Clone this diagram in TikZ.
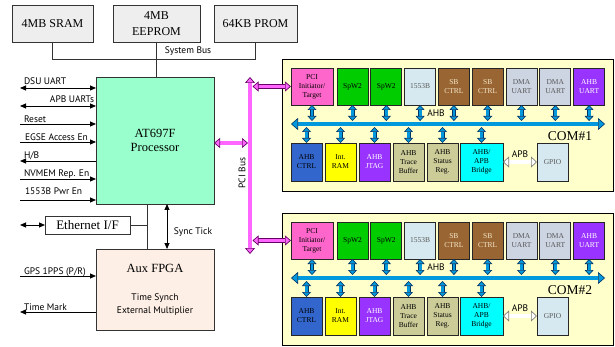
\documentclass[tikz,border=0pt]{standalone}
\usepackage{fontspec}
\setmainfont{Liberation Serif}
\newfontfamily\labelsans{PT Sans}
\usetikzlibrary{arrows.meta}

\definecolor{memgray}{HTML}{EEEEEE}
\definecolor{procgreen}{HTML}{99FFCC}
\definecolor{fpgapeach}{HTML}{FDEFE5}
\definecolor{comyellow}{HTML}{FFFFCC}
\definecolor{pcipink}{HTML}{FF66CC}
\definecolor{spwgreen}{HTML}{00CC00}
\definecolor{paleblue}{HTML}{D6E9F0}
\definecolor{sbbrown}{HTML}{996633}
\definecolor{sbtext}{HTML}{F5E6C8}
\definecolor{dmagray}{HTML}{CDD5E3}
\definecolor{ahbpurple}{HTML}{9933FF}
\definecolor{ctrlblue}{HTML}{3366CC}
\definecolor{ramyellow}{HTML}{FFFF00}
\definecolor{khaki}{HTML}{CCCC99}
\definecolor{bridgecyan}{HTML}{00FFFF}
\definecolor{pcimag}{HTML}{FF66FF}
\definecolor{pcidark}{HTML}{660066}
\definecolor{ahbblue}{HTML}{0099DD}
\definecolor{ahbdark}{HTML}{003366}
\definecolor{apbgray}{HTML}{808080}

\tikzset{
  every node/.style={inner sep=0pt, outer sep=0pt},
  lbl/.style={font=\labelsans\fontsize{9.5}{11}\selectfont},
  wire/.style={draw=black!80, line width=0.8pt},
  sig/.style={draw=black, line width=0.8pt},
  sigtip/.tip={Triangle[length=6pt, width=5pt]},
  mem/.style={draw=black!80, fill=memgray, line width=0.8pt, minimum height=37pt,
    align=center, font=\fontsize{12}{16}\selectfont},
  proc/.style={draw=black!80, fill=procgreen, line width=0.8pt, minimum width=118pt,
    minimum height=127pt, align=center, font=\fontsize{12.5}{14.5}\selectfont},
  fpgabox/.style={draw=black!80, fill=fpgapeach, line width=0.8pt, minimum width=118pt,
    minimum height=81pt},
  ethbox/.style={draw=black!80, fill=white, line width=0.8pt, minimum width=85pt,
    minimum height=18pt, font=\fontsize{13}{13}\selectfont},
  combg/.style={draw=black, fill=comyellow, line width=0.8pt},
  blk/.style={draw=black!85, line width=0.7pt, minimum width=31pt, minimum height=37pt,
    align=center, font=\fontsize{7.5}{9}\selectfont},
  blkb/.style={blk, minimum height=38pt},
  pcitip/.tip={Triangle[fill=pcimag, width=10pt, length=6pt, line width=0.7pt]},
  pcibus/.style={draw=pcidark, line width=0.7pt, double=pcimag, double distance=3.2pt,
    arrows={pcitip-pcitip}},
  ahbtip/.tip={Triangle[fill=ahbblue, width=12pt, length=7pt, line width=0.6pt]},
  ahbbus/.style={draw=ahbdark, line width=0.6pt, double=ahbblue, double distance=3.4pt,
    arrows={ahbtip-ahbtip}},
  taptip/.tip={Triangle[fill=ahbblue, width=9pt, length=5pt, line width=0.6pt]},
  ahbtap/.style={draw=ahbdark, line width=0.6pt, double=ahbblue, double distance=2.8pt,
    arrows={taptip-taptip}},
  apbtip/.tip={Triangle[fill=white, width=11pt, length=6pt, line width=0.7pt]},
  apblink/.style={draw=apbgray, line width=0.7pt, double=white, double distance=3.4pt,
    arrows={apbtip-apbtip}},
}

% One COM unit: #1 name suffix, #2 top edge, #3 title
\newcommand\comunit[3]{%
\begin{scope}[shift={(0,#2)}]
  \node[combg, minimum width=331pt, minimum height=132pt] (com#1) at (447.5,66) {};
  % top row of cores
  \node[blk, fill=pcipink, minimum width=42pt] (pci#1) at (312,27.5) {PCI\\Initiator/\\Target};
  \node[blk, fill=spwgreen] (spwa#1) at (352.5,27.5) {SpW2};
  \node[blk, fill=spwgreen] (spwb#1) at (386.3,27.5) {SpW2};
  \node[blk, fill=paleblue, text=black!65] (mil#1) at (420.1,27.5) {1553B};
  \node[blk, fill=sbbrown, text=sbtext] (sba#1) at (453.9,27.5) {SB\\CTRL};
  \node[blk, fill=sbbrown, text=sbtext] (sbb#1) at (487.7,27.5) {SB\\CTRL};
  \node[blk, fill=dmagray, text=black!65] (dmaa#1) at (521.5,27.5) {DMA\\UART};
  \node[blk, fill=dmagray, text=black!65] (dmab#1) at (555.3,27.5) {DMA\\UART};
  \node[blk, fill=ahbpurple, text=white] (uart#1) at (589.1,27.5) {AHB\\UART};
  % bottom row of cores
  \node[blkb, fill=ctrlblue] (ctrl#1) at (306.5,103) {AHB\\CTRL};
  \node[blkb, fill=ramyellow] (ram#1) at (340.5,103) {Int.\\RAM};
  \node[blkb, fill=ahbpurple, text=white] (jtag#1) at (374.5,103) {AHB\\JTAG};
  \node[blkb, fill=khaki] (trace#1) at (408.5,103) {AHB\\Trace\\Buffer};
  \node[blkb, fill=khaki] (stat#1) at (442.5,103) {AHB\\Status\\Reg.};
  \node[blkb, fill=bridgecyan, minimum width=43pt] (brg#1) at (481.5,103) {AHB/\\APB\\Bridge};
  \node[blkb, fill=paleblue, text=black!65] (gpio#1) at (552.5,103) {GPIO};
  % AHB bus and its taps
  \coordinate (ahbL#1) at (291,65);
  \coordinate (ahbR#1) at (605,65);
  \coordinate (ahbU#1) at (0,62);
  \coordinate (ahbD#1) at (0,68);
  \draw[ahbbus] (ahbL#1) -- (ahbR#1);
  \foreach \nm in {pci,spwa,spwb,mil,sba,sbb,dmaa,dmab,uart}
    \draw[ahbtap] (\nm#1.south) -- (\nm#1.south |- ahbU#1);
  \foreach \nm in {ctrl,ram,jtag,trace,stat,brg}
    \draw[ahbtap] (\nm#1.north |- ahbD#1) -- (\nm#1.north);
  \node[lbl] at (436,54) {AHB};
  % APB link to GPIO
  \draw[apblink] (brg#1.east) -- (gpio#1.west);
  \node[lbl] at (520,95) {APB};
  \node[font=\fontsize{13.5}{13.5}\selectfont] at (570,77) {#3};
\end{scope}}

\begin{document}
\begin{tikzpicture}[x=1pt, y=-1pt]
\useasboundingbox (0,0) rectangle (615,347);

% memories on the system bus
\node[mem, minimum width=81pt] (sram) at (52.5,23.5) {4MB SRAM};
\node[mem, minimum width=87pt] (eeprom) at (156.5,23.5) {4MB\\EEPROM};
\node[mem, minimum width=83pt] (prom) at (255.5,23.5) {64KB PROM};

% processor
\node[proc] (proc) at (155,140.5) {AT697F\\Processor};

\coordinate (sysbus) at (0,59);
\draw[wire] (sram.south) -- (sram.south |- sysbus) -- (prom.south |- sysbus) -- (prom.south);
\draw[wire] (eeprom.south) -- (eeprom.south |- proc.north);
\node[lbl] at (188,51) {System Bus};

% discrete signals of the processor
\coordinate (dsu) at (20,88);
\draw[sig, arrows={sigtip-sigtip}] (dsu) -- (dsu -| proc.west);
\node[lbl, anchor=base west] at (24,85) {DSU UART};

\coordinate (apbu) at (20,106);
\draw[sig, arrows={sigtip-sigtip}] (apbu) -- (apbu -| proc.west);
\node[lbl, anchor=base east] at (94,102.5) {APB UARTs};

\coordinate (rst) at (20,124);
\draw[sig, arrows={-sigtip}] (rst) -- (rst -| proc.west);
\node[lbl, anchor=base west] at (24,122.5) {Reset};

\coordinate (egse) at (20,142);
\draw[sig, arrows={-sigtip}] (egse) -- (egse -| proc.west);
\node[lbl, anchor=base west] at (25,140.5) {EGSE Access En};

\coordinate (hb) at (20,161);
\draw[sig, arrows={-sigtip}] (hb -| proc.west) -- (hb);
\node[lbl, anchor=base west] at (24,158.5) {H/B};

\coordinate (nvm) at (20,179);
\draw[sig, arrows={-sigtip}] (nvm) -- (nvm -| proc.west);
\node[lbl, anchor=base west] at (24,176.5) {NVMEM Rep. En};

\coordinate (pwr) at (20,200);
\draw[sig, arrows={-sigtip}] (pwr) -- (pwr -| proc.west);
\node[lbl, anchor=base west] at (25,194.5) {1553B Pwr En};

% auxiliary FPGA
\node[fpgabox] (fpga) at (155,289.5) {};
\node[font=\fontsize{12.5}{12.5}\selectfont] (fpganame) at (155,268) {Aux FPGA};
\node[lbl] (fpgaf1) at (155,298) {Time Synch};
\node[lbl] (fpgaf2) at (155,311) {External Multiplier};

% ethernet interface
\node[ethbox] (eth) at (87.5,225) {Ethernet I/F};
\coordinate (ethin) at (20,225);
\draw[sig, arrows={sigtip-sigtip}] (ethin) -- (eth.west);
\coordinate (ethtap) at (147,0);
\draw[wire] (proc.south -| ethtap) -- (fpga.north -| ethtap);
\draw[wire] (eth.east) -- (eth.east -| ethtap);

% sync tick
\coordinate (synctap) at (167,0);
\draw[sig, arrows={sigtip-sigtip}] (proc.south -| synctap) -- (fpga.north -| synctap);
\node[lbl] at (193,232) {Sync Tick};

% FPGA signals
\coordinate (gps) at (20,276);
\draw[sig, arrows={-sigtip}] (gps) -- (gps -| fpga.west);
\node[lbl, anchor=base west] at (24,274.5) {GPS 1PPS (P/R)};

\coordinate (tmark) at (20,312);
\draw[sig, arrows={-sigtip}] (tmark -| fpga.west) -- (tmark);
\node[lbl, anchor=base west] at (24,310.5) {Time Mark};

% the two COM units
\comunit{1}{59}{COM\#1}
\comunit{2}{213}{COM\#2}

% PCI bus
\coordinate (pcitop) at (250,77);
\coordinate (pcibot) at (250,254);
\draw[pcibus] (pcitop) -- (pcibot);
\node[lbl, rotate=90] at (242,173) {PCI Bus};
\coordinate (pcin) at (248,143);
\draw[pcibus] (proc.east |- pcin) -- (pcin);
\coordinate (pcitap) at (252.5,0);
\draw[pcibus] (pci1.west -| pcitap) -- (pci1.west);
\draw[pcibus] (pci2.west -| pcitap) -- (pci2.west);
\end{tikzpicture}
\end{document}
